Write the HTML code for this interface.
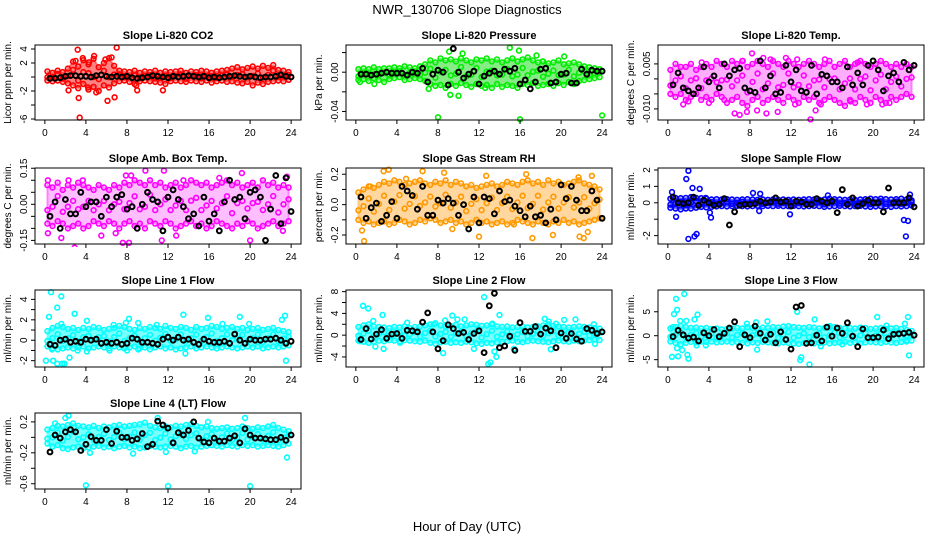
<!DOCTYPE html>
<html><head><meta charset="utf-8"><style>
html,body{margin:0;padding:0;background:#fff;}
svg{display:block;font-family:"Liberation Sans",Arial,sans-serif;}
</style></head><body>
<svg id="chart" width="936" height="540" viewBox="0 0 936 540" xmlns="http://www.w3.org/2000/svg">
<rect width="936" height="540" fill="#fff"/>
<text x="467" y="14" text-anchor="middle" font-size="13">NWR_130706  Slope Diagnostics</text>
<text x="467" y="531" text-anchor="middle" font-size="13">Hour of Day (UTC)</text>
</svg>
<script>
// shared hours
const hoursBand = [0.25,0.75,1.25,1.75,2.25,2.75,3.25,3.75,4.25,4.75,5.25,5.75,6.25,6.75,7.25,7.75,8.25,8.75,9.25,9.75,10.25,10.75,11.25,11.75,12.25,12.75,13.25,13.75,14.25,14.75,15.25,15.75,16.25,16.75,17.25,17.75,18.25,18.75,19.25,19.75,20.25,20.75,21.25,21.75,22.25,22.75,23.25,23.75];
const hoursBlack = [0.5,1,1.5,2,2.5,3,3.5,4,4.5,5,5.5,6,6.5,7,7.5,8,8.5,9,9.5,10,10.5,11,11.5,12,12.5,13,13.5,14,14.5,15,15.5,16,16.5,17,17.5,18,18.5,19,19.5,20,20.5,21,21.5,22,22.5,23,23.5,24];
const xTicks = [0,4,8,12,16,20,24];

// Panel 1 CO2
const p1Upper = [0.8,0.6,0.9,0.7,1.2,2.2,1.5,2.4,1.8,2.6,1.4,2.0,2.7,1.6,0.9,0.8,0.7,0.9,0.6,0.8,0.7,0.9,0.6,0.8,0.7,0.8,0.9,0.6,0.8,0.7,0.9,0.8,0.6,0.8,0.9,1.0,1.2,1.4,1.1,1.3,1.5,1.2,1.6,1.3,1.7,1.0,0.9,0.7];
const p1Lower = [-0.5,-0.6,-0.5,-0.7,-0.9,-1.2,-1.6,-1.0,-1.8,-1.4,-2.0,-1.2,-1.5,-0.9,-0.6,-0.5,-0.7,-1.0,-0.6,-0.5,-0.6,-0.7,-0.8,-1.0,-0.6,-0.5,-0.6,-0.7,-0.5,-0.6,-0.7,-0.5,-0.8,-0.6,-0.5,-0.7,-0.6,-0.8,-0.9,-0.7,-1.2,-0.8,-1.0,-0.7,-0.6,-0.5,-0.6,-0.4];
const p1Black = [-0.2,-0.2,-0.1,0.1,0.2,0.2,0.1,0.1,0.0,0.2,0.3,0.1,0.0,0.1,0.0,0.1,-0.1,-0.2,-0.1,0,0.2,0.1,0.0,-0.1,0.1,0.0,0.1,0.2,0.1,0.0,0.1,-0.1,0.0,-0.1,0,0.1,0.2,0.1,0,0.1,0,-0.1,0,0,0.1,0.3,0.1,0.0];
const p1OutX = [3.2,3.4,3.7,4.8,7.0,6.1,3.3,2.3,9.0,11.5,6.8,4.2,4.3,5.0,5.9,6.5,3.0,8.9];
const p1OutY = [3.9,-5.8,2.7,3.0,4.2,-3.4,-3.0,-1.9,-1.9,-1.9,-2.9,-1.5,2.1,-2.2,2.5,2.8,2.3,-1.2];
const p1Ticks = [-6,-4,-2,0,2,4];
const p1Labels = ["-6","","-2","","2","4"];

// Panel 2 Pressure
const p2Upper = [.003,.004,.003,.005,.003,.004,.004,.005,.004,.006,.005,.004,.006,.008,.012,.010,.014,.012,.013,.011,.014,.012,.010,.013,.012,.014,.011,.013,.010,.012,.014,.011,.013,.015,.012,.010,.011,.009,.010,.012,.008,.009,.010,.008,.006,.005,.004,.003];
const p2Lower = [-.008,-.007,-.009,-.006,-.008,-.010,-.007,-.006,-.005,-.008,-.007,-.006,-.007,-.009,-.012,-.014,-.013,-.016,-.012,-.014,-.011,-.013,-.015,-.012,-.014,-.013,-.016,-.012,-.015,-.013,-.014,-.016,-.012,-.013,-.011,-.014,-.013,-.012,-.014,-.011,-.013,-.010,-.012,-.009,-.008,-.007,-.006,-.005];
const p2Black = [-.002,-.002,-.003,-.002,-.001,.000,-.001,-.001,-.001,-.003,.000,-.001,.004,-.010,-.002,.002,.000,-.013,.024,.000,-.006,-.002,.001,-.012,-.004,-.001,.001,-.002,.003,.001,.004,-.012,-.008,-.017,-.010,.003,.004,-.011,-.010,-.002,-.001,-.011,-.011,.003,-.002,.002,.001,.001];
const p2OutX = [8.0,16.0,24.0,9.1,10.4,9.2,15.9,10.0,7.1,15.0,18.2,20.3,17.6,12.6,0.4,1.8];
const p2OutY = [-.046,-.048,-.044,.021,.019,-.023,.022,-.024,-.017,.025,.011,.016,.017,-.016,-.010,-.012];
const p2Ticks = [-.04,-.02,0,.02];
const p2Labels = ["-0.04","","0.00",""];

// Panel 3 Li-820 Temp
const p3Upper = [.003,.005,.004,.004,.005,.003,.004,.005,.004,.006,.005,.004,.006,.005,.006,.004,.005,.006,.005,.004,.006,.005,.004,.006,.005,.004,.005,.006,.005,.004,.005,.006,.004,.005,.006,.004,.005,.006,.005,.004,.005,.006,.005,.004,.005,.004,.005,.004];
const p3Lower = [-.005,-.006,-.005,-.007,-.006,-.005,-.007,-.006,-.007,-.005,-.006,-.008,-.007,-.006,-.008,-.009,-.007,-.006,-.008,-.007,-.006,-.007,-.008,-.006,-.007,-.008,-.006,-.007,-.006,-.008,-.007,-.006,-.007,-.008,-.009,-.007,-.008,-.006,-.007,-.008,-.006,-.007,-.008,-.006,-.007,-.006,-.005,-.006];
const p3Black = [-.002,.002,-.003,-.004,-.005,-.003,.004,-.001,.001,-.003,.005,.001,.003,.0035,-.003,-.004,-.0045,.006,-.003,.001,-.005,-.0045,.0045,-.001,.003,-.004,-.0045,.0045,-.005,.0015,.001,-.001,-.001,-.003,.004,-.002,.002,-.002,.0045,.006,.003,-.004,.001,.002,-.001,.0055,.003,.0045];
const p3OutX = [1.5,2.0,6.5,7.0,7.7,8.2,8.7,9.6,10.7,13.9,14.4,14.9,17.8,21.6,7.3,9.3,10.0,12.6,15.3,4.0,5.5,11.5,12.4,18.5,3.3,19.4,20.9];
const p3OutY = [-.0085,-.0075,-.0115,-.012,-.011,.0085,-.0105,-.0115,-.011,-.0135,-.0105,-.0085,-.0075,-.008,.006,.007,.0065,.0065,.0065,-.008,-.007,.007,-.0085,.0055,.0055,-.0085,-.0085];
const p3Ticks = [-.01,-.005,0,.005];
const p3Labels = ["-0.010","","","0.005"];

// Panel 4 Amb. Box Temp
const p4Upper = [.08,.07,.09,.06,.08,.07,.09,.08,.07,.06,.08,.07,.06,.08,.07,.09,.08,.10,.09,.08,.10,.08,.09,.07,.08,.09,.07,.08,.10,.09,.08,.09,.07,.08,.09,.10,.08,.09,.07,.08,.09,.07,.10,.08,.09,.07,.08,.07];
const p4Lower = [-.08,-.09,-.07,-.08,-.10,-.09,-.08,-.10,-.09,-.07,-.08,-.09,-.07,-.08,-.10,-.08,-.07,-.09,-.08,-.10,-.07,-.08,-.09,-.07,-.08,-.10,-.09,-.08,-.07,-.09,-.08,-.10,-.09,-.07,-.08,-.09,-.10,-.08,-.09,-.07,-.08,-.10,-.09,-.08,-.07,-.09,-.08,-.07];
const p4Black = [-.05,.01,-.1,.02,-.04,-.04,.05,-.01,.01,.01,-.05,.03,-.01,.03,.04,-.02,-.01,-.1,.0,.05,.02,.01,-.11,.03,.06,.02,-.01,-.06,-.04,-.09,.03,-.07,-.04,-.11,.01,.1,.02,.03,-.06,.05,.06,.03,-.15,-.02,.12,-.08,.11,-.03];
const p4OutX = [0.3,1.6,2.9,7.6,8.2,9.8,11.6,11.4,12.8,19.2,20.0,3.7,7.9,17.0,23.6,13.5,23.2,6.9,5.5,0.3,2.3,8.4];
const p4OutY = [-.12,-.14,-.18,-.16,-.16,.14,.14,-.15,-.13,.13,-.15,.1,.12,.11,.115,.1,-.11,-.12,-.13,.1,.1,.12];
const p4Ticks = [-.15,-.1,-.05,0,.05,.1,.15];
const p4Labels = ["-0.15","","","0.00","","","0.15"];

// Panel 5 Gas Stream RH
const p5Upper = [.08,.10,.12,.11,.13,.15,.14,.16,.15,.13,.14,.15,.16,.14,.13,.15,.14,.16,.13,.15,.14,.12,.13,.11,.12,.13,.14,.12,.13,.15,.14,.13,.15,.16,.14,.15,.13,.16,.14,.15,.13,.14,.15,.16,.14,.13,.12,.10];
const p5Lower = [-.10,-.12,-.11,-.13,-.12,-.11,-.13,-.12,-.10,-.11,-.13,-.12,-.10,-.11,-.09,-.10,-.12,-.11,-.10,-.12,-.11,-.13,-.12,-.10,-.12,-.11,-.13,-.12,-.11,-.13,-.12,-.10,-.11,-.12,-.13,-.11,-.12,-.13,-.11,-.12,-.10,-.12,-.11,-.13,-.12,-.11,-.10,-.09];
const p5Black = [.05,-.09,-.02,.01,-.11,-.07,.02,-.09,.12,.09,.06,-.03,.12,-.07,-.07,.03,.01,.04,.01,-.07,.0,-.16,.05,-.12,.05,.04,-.06,.09,.02,.03,-.01,-.04,-.08,-.01,-.08,-.07,-.12,-.03,-.1,.13,.04,.12,.03,-.04,-.04,.09,.03,-.09];
const p5OutX = [0.8,0.6,2.7,3.2,6.5,8.6,9.4,12.0,12.7,16.6,17.2,19.2,21.7,21.8,22.2,23.0,22.6,4.9,1.4,15.4];
const p5OutY = [-.24,-.17,.22,.23,.22,.21,-.16,-.21,.19,.2,-.22,-.2,.18,-.21,-.22,.19,-.18,.17,.12,-.13];
const p5Ticks = [-.2,-.1,0,.1,.2];
const p5Labels = ["-0.2","","0.0","","0.2"];

// Panel 6 Sample Flow
const p6Upper = [.25,.3,.28,.3,.35,.3,.28,.25,.2,.22,.2,.22,.2,.18,.2,.22,.2,.18,.2,.18,.2,.18,.2,.18,.2,.18,.2,.22,.2,.18,.2,.25,.22,.2,.18,.2,.18,.2,.22,.25,.22,.25,.22,.2,.22,.25,.2,.15];
const p6Lower = [-.3,-.35,-.4,-.35,-.35,-.3,-.25,-.28,-.25,-.22,-.2,-.22,-.2,-.18,-.2,-.22,-.2,-.18,-.2,-.18,-.2,-.18,-.2,-.2,-.18,-.2,-.22,-.2,-.18,-.2,-.25,-.22,-.2,-.18,-.2,-.22,-.2,-.18,-.22,-.25,-.22,-.2,-.22,-.25,-.2,-.22,-.2,-.15];
const p6Black = [.35,.0,-.05,.0,.35,-.15,.15,.0,-.15,-.1,.25,-1.35,-.55,-.15,-.1,-.1,-.05,.1,.0,.05,.3,.05,.1,-.2,.1,.05,-.1,-.1,.25,.1,.0,.1,-.6,.8,-.1,.3,-.2,-.05,.15,.0,.0,-.55,.9,.0,.0,.0,.3,-.25];
const p6OutX = [0.4,0.8,1.8,2.0,2.0,2.4,2.6,2.8,3.1,3.7,4.1,8.3,9.0,11.9,8.9,15.6,23.0,23.2,23.4,23.6,4.2];
const p6OutY = [.65,-.85,1.45,1.95,-2.2,.9,-2.05,-1.9,.85,.3,-.6,.6,.55,-.7,-.5,.45,-1.05,-2.05,-1.1,.5,-.9];
const p6Ticks = [-2,-1,0,1,2];
const p6Labels = ["-2","","0","1","2"];

// Panel 7 Line 1 Flow
const p7Upper = [0.9,1.2,1.4,1.3,1.1,1.2,1.0,1.2,1.1,1.3,1.2,1.0,1.1,1.2,1.4,1.3,1.1,1.0,1.2,1.1,1.3,1.2,1.1,1.4,1.2,1.1,1.3,1.2,1.0,1.3,1.1,1.2,1.4,1.3,1.1,1.2,1.3,1.1,1.2,1.0,1.1,1.2,1.0,1.1,1.2,1.0,0.9,0.8];
const p7Lower = [-0.6,-0.8,-0.9,-0.8,-0.7,-0.8,-0.7,-0.6,-0.8,-0.7,-0.6,-0.7,-0.8,-0.6,-0.7,-0.8,-0.7,-0.6,-0.8,-0.7,-0.9,-0.7,-0.6,-0.8,-0.7,-0.9,-0.8,-0.7,-0.6,-0.8,-0.7,-0.6,-0.7,-0.8,-0.7,-0.6,-0.7,-0.8,-0.7,-0.6,-0.7,-0.6,-0.8,-0.7,-0.6,-0.7,-0.6,-0.5];
const p7Black = [-0.4,-0.5,0.0,0.1,-0.2,-0.1,-0.2,0.1,0.0,0.1,-0.3,-0.2,-0.3,-0.2,-0.4,-0.3,0.2,0.1,-0.2,-0.2,-0.3,-0.4,0.1,0.3,0.0,0.3,0.0,0.1,-0.2,-0.4,0.1,-0.1,-0.2,-0.2,-0.1,-0.3,0.6,0.0,-0.3,0.1,0.0,0.0,0.1,0.1,0.2,0.0,-0.3,-0.1];
const p7OutX = [0.1,0.4,0.6,0.7,0.8,1.2,1.2,1.6,1.6,1.7,1.9,2.4,2.9,3.2,4.1,4.1,7.9,8.2,8.0,9.1,13.5,13.7,15.9,17.3,19.0,19.9,23.1,23.4,23.5,10.9,6.7,6.3,9.1];
const p7OutY = [-2,2.3,4.7,-0.9,-2,3.2,-2.3,4.3,1.6,-2.3,-2.3,-1.7,2.6,-1.0,1.9,-1.1,1.7,2.1,-1.0,1.7,2.5,-1.3,2.2,1.6,2.3,1.6,2.0,2.4,-2.0,1.5,1.5,-1.0,-0.9];
const p7Ticks = [-2,-1,0,1,2,3,4];
const p7Labels = ["-2","","0","","2","","4"];

// Panel 8 Line 2 Flow
const p8Upper = [1.5,1.8,2.0,1.6,1.5,1.4,1.3,1.5,1.4,1.6,1.3,1.5,1.6,1.8,2.0,2.2,1.8,1.6,1.7,1.9,1.6,1.8,2.0,1.9,1.7,1.8,2.0,1.6,1.5,1.6,1.4,1.5,1.6,1.4,1.5,1.6,1.8,2.0,1.7,1.6,1.5,1.4,1.5,1.6,1.5,1.4,1.3,1.2];
const p8Lower = [-1.0,-1.2,-1.4,-1.2,-1.0,-1.1,-0.9,-1.0,-1.1,-0.9,-1.0,-1.1,-1.2,-1.0,-1.4,-1.6,-1.3,-1.2,-1.4,-1.3,-1.4,-1.2,-1.3,-1.5,-1.6,-1.4,-1.5,-1.3,-1.2,-1.1,-1.0,-1.2,-1.3,-1.1,-1.0,-1.1,-1.2,-1.3,-1.1,-1.0,-1.1,-1.2,-1.0,-1.1,-1.0,-0.9,-0.8,-0.9];
const p8Black = [-0.8,1.2,-0.7,0.2,1.0,-0.6,0.2,0.3,-0.6,0.9,0.8,0.6,2.4,4.1,0.6,-2.5,-1.0,1.9,1.2,0.3,0.5,-0.8,0.3,0.8,-3.2,5.4,7.7,-2.3,-2.0,-0.2,-2.8,2.3,0.7,0.7,1.6,0.2,1.3,0.8,-2.3,0.4,-0.6,0.3,-0.7,-1.1,1.2,0.9,0.3,0.6];
const p8OutX = [0.7,1.2,1.9,2.6,2.7,1.7,5.0,7.6,8.5,8.7,9.4,9.9,10.6,11.5,12.5,12.9,13.1,13.5,13.7,14.0,13.3,15.4,18.4,18.8,19.0,19.5,20.3,21.4,23.2,23.3,4.3,0.4];
const p8OutY = [5.4,4.9,-2.1,3.7,-2.5,2.6,2.3,2.0,-3.3,2.7,3.6,2.9,2.9,-2.5,7.0,-5.3,-5.0,-3.0,-4.0,3.7,2.1,-2.5,3.0,2.5,-2.6,2.1,2.8,2.9,2.0,-1.6,-1.4,-1.1];
const p8Ticks = [-4,-2,0,2,4,6,8];
const p8Labels = ["-4","","0","","4","","8"];

// Panel 9 Line 3 Flow
const p9Upper = [1.5,1.8,2.0,1.8,1.6,1.7,1.5,1.6,1.4,1.5,1.3,1.4,1.5,1.6,1.5,1.8,1.6,1.5,1.7,1.6,1.8,1.7,1.9,2.0,1.8,1.7,1.6,1.8,1.7,1.5,1.6,1.7,1.8,1.6,1.5,1.6,1.5,1.7,1.6,1.4,1.5,1.6,1.4,1.5,1.6,1.4,1.2,1.0];
const p9Lower = [-1.2,-1.5,-1.8,-1.5,-1.3,-1.4,-1.2,-1.3,-1.2,-1.4,-1.3,-1.2,-1.4,-1.3,-1.5,-1.6,-1.4,-1.5,-1.3,-1.4,-1.5,-1.6,-1.4,-1.5,-1.6,-1.7,-1.5,-1.4,-1.6,-1.5,-1.4,-1.6,-1.5,-1.4,-1.3,-1.5,-1.4,-1.6,-1.4,-1.3,-1.4,-1.5,-1.3,-1.4,-1.5,-1.3,-1.2,-1.0];
const p9Black = [-0.2,1.1,0.2,-0.5,-0.3,-1.1,0.6,0.0,1.3,-0.2,0.5,1.6,2.9,-2.3,0.2,-0.4,2.0,0.5,-0.9,0.3,-1.5,0.8,-0.8,-2.8,6.0,6.3,-1.6,-1.5,0.1,-1.1,1.8,-0.1,1.6,0.5,2.7,-0.1,-2.3,1.4,-0.4,-0.4,-0.3,1.2,-0.6,0.3,0.4,0.5,0.7,0.1];
const p9OutX = [0.4,0.5,0.6,0.8,0.9,0.9,1.0,1.2,1.4,1.6,1.8,1.9,2.0,2.6,2.9,2.8,3.7,7.7,8.6,8.7,9.7,12.6,12.9,13.0,13.8,14.3,14.9,15.8,17.0,20.4,21.3,23.1,23.4,23.5,23.3];
const p9OutY = [-4.4,1.8,4.5,7.7,5.4,-2.6,-4.3,3.1,-3.0,8.7,3.1,-4.0,-4.8,3.4,4.4,-2.0,-2.0,2.5,2.8,-2.9,3.0,5.0,-5.1,-4.5,-6.0,3.4,-2.2,2.0,-1.8,3.9,2.1,2.5,3.9,-4.1,-1.0];
const p9Ticks = [-5,0,5];
const p9Labels = ["-5","0","5"];

// Panel 10 Line 4 (LT) Flow
const p10Upper = [.10,.12,.15,.14,.16,.18,.15,.14,.13,.15,.12,.14,.13,.15,.16,.14,.15,.16,.17,.19,.15,.13,.12,.14,.13,.15,.14,.16,.17,.15,.13,.14,.12,.11,.12,.13,.11,.12,.14,.12,.11,.13,.12,.14,.16,.12,.10,.08];
const p10Lower = [-.08,-.12,-.10,-.14,-.15,-.13,-.12,-.14,-.13,-.12,-.11,-.13,-.12,-.14,-.12,-.11,-.13,-.12,-.14,-.13,-.11,-.12,-.13,-.12,-.11,-.12,-.14,-.12,-.11,-.13,-.12,-.11,-.10,-.11,-.12,-.10,-.11,-.12,-.10,-.11,-.10,-.12,-.11,-.10,-.11,-.12,-.10,-.08];
const p10Black = [-0.19,0.03,-0.01,0.07,0.10,0.07,-0.17,-0.09,0.01,-0.04,-0.04,0.10,-0.08,0.08,0.0,0.0,-0.04,-0.02,0.05,-0.12,-0.09,0.21,0.16,0.12,-0.07,0.06,0.03,0.09,0.2,-0.01,-0.06,-0.07,-0.01,-0.05,-0.05,-0.01,0.02,-0.07,0.11,0.03,-0.01,-0.01,-0.02,-0.03,-0.03,0.0,-0.04,0.03];
const p10OutX = [4.0,12.0,20.0,2.0,2.3,11.0,19.5,4.4,8.6,11.8,23.6,14.6,1.0,15.9];
const p10OutY = [-0.62,-0.63,-0.63,0.25,0.28,0.25,0.25,-0.2,-0.21,-0.19,-0.26,-0.18,0.18,0.2];
const p10Ticks = [-0.6,-0.4,-0.2,0,0.2];
const p10Labels = ["-0.6","","-0.2","","0.2"];

const NS = "http://www.w3.org/2000/svg";
const svg = document.getElementById('chart');
const colL = [35,346,658], colR = [301,612,924];
const rowT = [45,168,290,413], rowB = [120,244,367,489];

const panels = [
 {key:'co2', title:'Slope Li-820 CO2', ylab:'Licor ppm per min.', c:0, r:0, color:'#ff0000', fill:'#ff3030', op:0.6, ylim:[-6.14,4.57], up:p1Upper, lo:p1Lower, bk:p1Black, ox:p1OutX, oy:p1OutY, ticks:p1Ticks, labels:p1Labels},
 {key:'pressure', title:'Slope Li-820 Pressure', ylab:'kPa per min.', c:1, r:0, color:'#00ee00', fill:'#22dd22', op:0.55, ylim:[-0.0487,0.0277], up:p2Upper, lo:p2Lower, bk:p2Black, ox:p2OutX, oy:p2OutY, ticks:p2Ticks, labels:p2Labels},
 {key:'li820-temp', title:'Slope Li-820 Temp.', ylab:'degrees C per min.', c:2, r:0, color:'#ff00ff', fill:'#ff33ff', op:0.4, ylim:[-0.0137,0.0113], up:p3Upper, lo:p3Lower, bk:p3Black, ox:p3OutX, oy:p3OutY, ticks:p3Ticks, labels:p3Labels},
 {key:'amb-box-temp', title:'Slope Amb. Box Temp.', ylab:'degrees C per min.', c:0, r:1, color:'#ff00ff', fill:'#ff44ff', op:0.35, ylim:[-0.165,0.151], up:p4Upper, lo:p4Lower, bk:p4Black, ox:p4OutX, oy:p4OutY, ticks:p4Ticks, labels:p4Labels},
 {key:'gas-stream-rh', title:'Slope Gas Stream RH', ylab:'percent per min.', c:1, r:1, color:'#ff9900', fill:'#ff9a10', op:0.4, ylim:[-0.259,0.241], up:p5Upper, lo:p5Lower, bk:p5Black, ox:p5OutX, oy:p5OutY, ticks:p5Ticks, labels:p5Labels},
 {key:'sample-flow', title:'Slope Sample Flow', ylab:'ml/min per min.', c:2, r:1, color:'#0000ff', fill:'#1a1aff', op:0.7, ylim:[-2.51,2.12], up:p6Upper, lo:p6Lower, bk:p6Black, ox:p6OutX, oy:p6OutY, ticks:p6Ticks, labels:p6Labels},
 {key:'line1-flow', title:'Slope Line 1 Flow', ylab:'ml/min per min.', c:0, r:2, color:'#00ffff', fill:'#22ffff', op:0.6, ylim:[-2.62,4.92], up:p7Upper, lo:p7Lower, bk:p7Black, ox:p7OutX, oy:p7OutY, ticks:p7Ticks, labels:p7Labels},
 {key:'line2-flow', title:'Slope Line 2 Flow', ylab:'ml/min per min.', c:1, r:2, color:'#00ffff', fill:'#22ffff', op:0.6, ylim:[-5.85,8.3], up:p8Upper, lo:p8Lower, bk:p8Black, ox:p8OutX, oy:p8OutY, ticks:p8Ticks, labels:p8Labels},
 {key:'line3-flow', title:'Slope Line 3 Flow', ylab:'ml/min per min.', c:2, r:2, color:'#00ffff', fill:'#22ffff', op:0.6, ylim:[-6.53,9.54], up:p9Upper, lo:p9Lower, bk:p9Black, ox:p9OutX, oy:p9OutY, ticks:p9Ticks, labels:p9Labels},
 {key:'line4-flow', title:'Slope Line 4 (LT) Flow', ylab:'ml/min per min.', c:0, r:3, color:'#00ffff', fill:'#22ffff', op:0.6, ylim:[-0.668,0.315], up:p10Upper, lo:p10Lower, bk:p10Black, ox:p10OutX, oy:p10OutY, ticks:p10Ticks, labels:p10Labels}
];

function mk(tag, attrs, parent){
  const e = document.createElementNS(NS, tag);
  for (const k in attrs) e.setAttribute(k, attrs[k]);
  (parent||svg).appendChild(e);
  return e;
}

panels.forEach(p => {
  const L = colL[p.c], R = colR[p.c], T = rowT[p.r], B = rowB[p.r];
  const x0 = -0.96, x1 = 24.96;
  const xs = h => L + (h - x0) / (x1 - x0) * (R - L);
  const ys = v => B - (v - p.ylim[0]) / (p.ylim[1] - p.ylim[0]) * (B - T);
  const g = mk('g', {});
  
  

  const clipId = 'clip-' + p.key;
  const cp = mk('clipPath', {id: clipId}, g);
  mk('rect', {x:L, y:T-3, width:R-L, height:B-T+6}, cp);
  const plot = mk('g', {'clip-path':'url(#'+clipId+')'}, g);
  
  

  let d = '';
  hoursBand.forEach((h,i) => { d += (i ? 'L' : 'M') + xs(h).toFixed(1) + ',' + ys(p.up[i]).toFixed(1); });
  for (let i = hoursBand.length - 1; i >= 0; i--) d += 'L' + xs(hoursBand[i]).toFixed(1) + ',' + ys(p.lo[i]).toFixed(1);
  const band = mk('path', {d: d + 'Z', fill: p.fill, 'fill-opacity': p.op, stroke: p.color, 'stroke-width': 2, 'stroke-opacity':0.4}, plot);
  
  

  const dot = (x, y, col, w, nm) => {
    const c = mk('circle', {cx: x.toFixed(1), cy: y.toFixed(1), r: 2.4, fill: 'none', stroke: col, 'stroke-width': w}, plot);
    
    
  };
  hoursBand.forEach((h,i) => {
    dot(xs(h), ys(p.up[i]), p.color, 1.6, p.key + '-point');
    dot(xs(h), ys(p.lo[i]), p.color, 1.6, p.key + '-point');
  });
  p.ox.forEach((h,i) => dot(xs(h), ys(p.oy[i]), p.color, 1.6, p.key + '-outlier-point'));
  hoursBand.forEach((h,i) => dot(xs(h), ys((p.up[i]+p.lo[i])/2 + (p.up[i]-p.lo[i])*0.15*((i%3)-1)), p.color, 1.6, p.key + '-point'));
  hoursBlack.forEach((h,i) => dot(xs(h), ys(p.bk[i]), '#000', 2, p.key + '-mean-point'));

  const fr = mk('rect', {x:L, y:T, width:R-L, height:B-T, fill:'none', stroke:'#000', 'stroke-width':1}, g);
  
  

  const tt = mk('text', {x:(L+R)/2, y:T-6, 'text-anchor':'middle', 'font-size':11, 'font-weight':'bold'}, g);
  tt.textContent = p.title;
  
  

  const xa = mk('g', {}, g);
  
  
  mk('line', {x1:xs(0), x2:xs(24), y1:B, y2:B, stroke:'#000'}, xa);
  xTicks.forEach(t => {
    mk('line', {x1:xs(t), x2:xs(t), y1:B, y2:B+4, stroke:'#000'}, xa);
    const lb = mk('text', {x:xs(t), y:B+16, 'text-anchor':'middle', 'font-size':10}, xa);
    lb.textContent = t;
    
    
  });

  const ya = mk('g', {}, g);
  
  
  p.ticks.forEach((t,i) => {
    mk('line', {x1:L, x2:L-4, y1:ys(t), y2:ys(t), stroke:'#000'}, ya);
    if (p.labels[i]) {
      const lx = L - 8, ly = ys(t);
      const lb = mk('text', {x:lx, y:ly, 'text-anchor':'middle', 'font-size':10, transform:'rotate(-90 '+lx+' '+ly+')'}, ya);
      lb.textContent = p.labels[i];
      
      
    }
  });
  const yx = L - 24, yy = (T + B) / 2;
  const yt = mk('text', {x:yx, y:yy, 'text-anchor':'middle', 'font-size':10, transform:'rotate(-90 '+yx+' '+yy+')'}, g);
  yt.textContent = p.ylab;
  
  
});
</script>
</body></html>
